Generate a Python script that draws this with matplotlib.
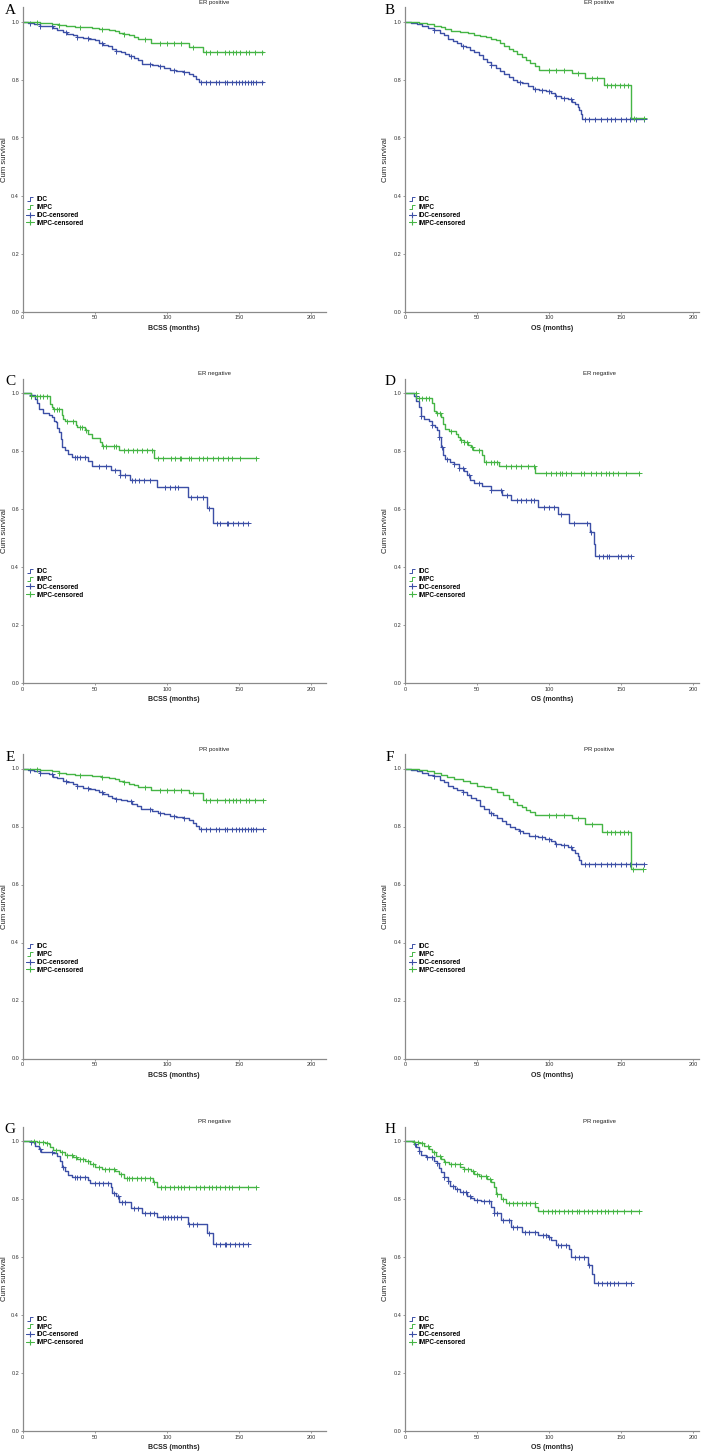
"""Kaplan-Meier curves, IDC vs IMPC, split by ER / PR status (8 panels)."""

import matplotlib
import matplotlib.pyplot as plt
import numpy as np
from matplotlib.lines import Line2D
from matplotlib.path import Path

matplotlib.use("Agg")

plt.rcParams["font.family"] = ["Liberation Sans", "DejaVu Sans"]

BLUE = "#3c4fa6"
GREEN = "#45b545"
AXIS_GREY = "#8a8a8a"

# ---------------------------------------------------------------- data
# step times (months) / cumulative survival / censor times
A_IDC_T = [0, 4, 8, 12, 17, 21, 24, 28, 31, 35, 38, 42, 46, 50, 53, 56, 59, 62, 65, 68,
           71, 74, 77, 80, 83, 90, 94, 98, 102, 106, 111, 115, 118, 120, 122, 167]
A_IDC_S = [1.0, 0.995, 0.99, 0.986, 0.983, 0.977, 0.97, 0.965, 0.958, 0.952, 0.947, 0.943,
           0.938, 0.935, 0.927, 0.92, 0.914, 0.906, 0.9, 0.895, 0.888, 0.88, 0.874, 0.866,
           0.853, 0.851, 0.845, 0.838, 0.833, 0.829, 0.825, 0.82, 0.812, 0.803, 0.793, 0.793]
A_IDC_C = [5, 12, 20, 30, 38, 45, 55, 65, 75, 88, 95, 105, 112, 124, 127, 130, 134, 136,
           140, 142, 145, 148, 150, 152, 154, 156, 158, 160, 162, 166]
A_IMPC_T = [0, 6, 12, 20, 25, 30, 36, 42, 48, 53, 60, 64, 67, 70, 74, 77, 80, 89, 115, 125, 167]
A_IMPC_S = [1.0, 0.997, 0.995, 0.992, 0.988, 0.985, 0.982, 0.98, 0.977, 0.974, 0.972, 0.968,
            0.962, 0.958, 0.953, 0.946, 0.939, 0.926, 0.912, 0.894, 0.894]
A_IMPC_C = [10, 25, 40, 55, 70, 85, 95, 100, 105, 110, 118, 127, 130, 135, 140, 143, 146,
            148, 151, 155, 157, 161, 166]

B_IDC_T = [0, 4, 8, 12, 16, 20, 24, 27, 30, 33, 36, 39, 42, 45, 48, 51, 54, 57, 60, 63, 66,
           69, 72, 75, 78, 81, 85, 89, 93, 98, 101, 104, 108, 113, 116, 118, 120, 121, 122,
           123, 166]
B_IDC_S = [1.0, 0.995, 0.99, 0.983, 0.978, 0.972, 0.962, 0.952, 0.94, 0.932, 0.925, 0.917,
           0.911, 0.903, 0.895, 0.885, 0.872, 0.86, 0.851, 0.84, 0.828, 0.818, 0.808, 0.8,
           0.793, 0.787, 0.776, 0.768, 0.763, 0.76, 0.752, 0.744, 0.737, 0.732, 0.724, 0.715,
           0.705, 0.695, 0.68, 0.665, 0.665]
B_IDC_C = [20, 40, 60, 80, 90, 95, 100, 105, 110, 115, 125, 128, 132, 136, 140, 143, 146,
           150, 153, 156, 160, 166]
B_IMPC_T = [0, 5, 10, 15, 20, 25, 28, 32, 38, 44, 48, 52, 56, 60, 63, 66, 69, 72, 75, 78,
            81, 84, 87, 90, 93, 116, 125, 138, 157, 166]
B_IMPC_S = [1.0, 0.997, 0.994, 0.99, 0.986, 0.98, 0.974, 0.968, 0.965, 0.962, 0.955, 0.95,
            0.946, 0.94, 0.935, 0.925, 0.915, 0.905, 0.897, 0.888, 0.877, 0.867, 0.858, 0.845,
            0.834, 0.822, 0.806, 0.78, 0.666, 0.666]
B_IMPC_C = [100, 105, 110, 120, 130, 133, 140, 143, 146, 149, 152, 155, 159, 166]

C_IDC_T = [0, 6, 8.5, 10, 11.5, 14, 18, 20, 22, 23, 24, 25.5, 26.5, 27.5, 29.5, 31.5, 34,
           45.5, 48, 61.5, 67.5, 74.5, 93, 114.5, 128, 132, 156.5]
C_IDC_S = [1.0, 0.994, 0.98, 0.966, 0.946, 0.932, 0.925, 0.92, 0.906, 0.9, 0.88, 0.866,
           0.843, 0.814, 0.803, 0.789, 0.78, 0.768, 0.751, 0.734, 0.717, 0.7, 0.677, 0.642,
           0.604, 0.554, 0.554]
C_IDC_C = [6, 36, 38, 40, 43, 53, 58, 64, 67.5, 71, 75.6, 78, 81, 84, 88, 98.7, 102, 105.7,
           108, 117, 120.7, 125, 129.5, 134.6, 137, 141.5, 142.7, 146, 149.6, 153, 156.5]
C_IMPC_T = [0, 6, 19, 20, 21, 27, 28, 29.5, 37, 38, 43, 45.5, 48, 53.5, 55, 67, 91, 162]
C_IMPC_S = [1.0, 0.992, 0.963, 0.952, 0.946, 0.925, 0.912, 0.906, 0.891, 0.883, 0.872, 0.86,
            0.846, 0.831, 0.817, 0.803, 0.778, 0.778]
C_IMPC_C = [6, 9.7, 12, 14, 17, 22, 23.6, 25.4, 30.5, 34.7, 39.8, 41, 44, 56, 58, 63, 65,
            70, 73, 76.8, 79, 82.5, 86, 89.5, 94, 97.6, 103, 105.7, 109, 110, 115, 117, 122,
            125, 127.6, 132, 135.7, 139, 142.7, 145, 150.7, 162]

D_IDC_T = [0, 6, 7.5, 9.5, 11, 13, 16.5, 19, 21, 22.5, 23.5, 25, 26.5, 28, 31.5, 34, 37.5,
           41, 43, 45, 48, 53.5, 59.5, 67.5, 73.5, 92.5, 106, 114, 128.5, 131, 132, 156.5]
D_IDC_S = [1.0, 0.989, 0.975, 0.952, 0.923, 0.912, 0.904, 0.889, 0.883, 0.872, 0.849, 0.814,
           0.786, 0.775, 0.763, 0.755, 0.743, 0.732, 0.717, 0.702, 0.69, 0.679, 0.665, 0.648,
           0.631, 0.608, 0.583, 0.553, 0.521, 0.482, 0.438, 0.438]
D_IDC_C = [7.4, 11, 19, 23.6, 26, 29.4, 34, 37.5, 40.5, 44.4, 51.4, 59.5, 66.4, 70.6, 78,
           80.3, 83.8, 87.3, 89.6, 96.5, 100, 103.5, 108, 117.4, 126.6, 129, 134.7, 137.7,
           140.5, 141.7, 147.5, 149.8, 154.4, 156.5]
D_IMPC_T = [0, 7.5, 18.5, 20, 21.5, 25, 26.5, 28, 30.5, 35.5, 37, 38.5, 41, 44, 45.5, 47,
            53.5, 55, 65.5, 90.5, 162.5]
D_IMPC_S = [1.0, 0.983, 0.966, 0.94, 0.931, 0.917, 0.894, 0.877, 0.869, 0.86, 0.849, 0.839,
            0.831, 0.823, 0.814, 0.805, 0.786, 0.763, 0.748, 0.725, 0.725]
D_IMPC_C = [7.4, 9.7, 12, 14.4, 16.7, 22.5, 24.3, 31.7, 38.7, 41, 43.3, 46.8, 51.4, 56,
            59.5, 61.8, 64, 70, 73.4, 76.9, 80.3, 85, 89.6, 97.7, 101, 104.6, 107.6, 109,
            111.6, 115, 122, 124.3, 129, 132.4, 135.9, 139.4, 141.7, 144, 147.5, 153.2, 162.5]

E_IDC_T = [0, 4, 8, 12, 18, 21, 24, 28, 31, 35, 38, 42, 46, 50, 53, 56, 59, 62, 65, 68,
           72, 76, 79, 82, 90, 94, 98, 102, 106, 111, 115, 118, 120, 122, 167]
E_IDC_S = [1.0, 0.995, 0.99, 0.984, 0.98, 0.972, 0.966, 0.958, 0.952, 0.946, 0.938, 0.934,
           0.931, 0.926, 0.918, 0.911, 0.905, 0.9, 0.896, 0.892, 0.887, 0.879, 0.871, 0.859,
           0.855, 0.848, 0.842, 0.836, 0.834, 0.828, 0.822, 0.813, 0.803, 0.791, 0.791]
E_IDC_C = [5, 12, 20, 30, 38, 45, 55, 65, 75, 88, 95, 105, 112, 124, 127, 130, 134, 136,
           140, 142, 145, 148, 150, 152, 154, 156, 158, 160, 162, 167]
E_IMPC_T = [0, 6, 12, 20, 25, 30, 36, 42, 48, 54, 60, 64, 67, 70, 74, 77, 80, 89, 115, 125, 167]
E_IMPC_S = [1.0, 0.997, 0.995, 0.99, 0.985, 0.982, 0.979, 0.977, 0.974, 0.971, 0.968, 0.964,
            0.958, 0.953, 0.948, 0.943, 0.937, 0.925, 0.914, 0.893, 0.893]
E_IMPC_C = [10, 25, 40, 55, 70, 85, 95, 100, 105, 110, 118, 127, 130, 135, 140, 143, 146,
            148, 151, 155, 157, 161, 167]

F_IDC_T = [0, 4, 8, 12, 16, 20, 24, 27, 30, 33, 36, 40, 43, 46, 49, 52, 55, 58, 61, 64,
           67, 70, 73, 76, 79, 82, 86, 92, 97, 101, 104, 108, 113, 116, 118, 120, 121, 122, 166]
F_IDC_S = [1.0, 0.995, 0.99, 0.983, 0.978, 0.974, 0.962, 0.952, 0.939, 0.932, 0.926, 0.918,
           0.91, 0.9, 0.89, 0.872, 0.86, 0.848, 0.838, 0.828, 0.818, 0.808, 0.8, 0.792, 0.784,
           0.776, 0.768, 0.763, 0.758, 0.75, 0.741, 0.735, 0.728, 0.72, 0.71, 0.698, 0.686,
           0.672, 0.672]
F_IDC_C = [20, 40, 60, 80, 90, 95, 100, 105, 110, 115, 125, 128, 132, 136, 140, 143, 146,
           150, 153, 156, 160, 166]
F_IMPC_T = [0, 5, 10, 15, 20, 25, 29, 34, 40, 45, 50, 55, 60, 64, 68, 72, 75, 78, 81, 84,
            87, 90, 116, 125, 137, 157, 165]
F_IMPC_S = [1.0, 0.997, 0.994, 0.99, 0.985, 0.977, 0.97, 0.964, 0.957, 0.949, 0.941, 0.935,
            0.928, 0.918, 0.907, 0.895, 0.885, 0.875, 0.866, 0.858, 0.849, 0.841, 0.828, 0.81,
            0.782, 0.652, 0.652]
F_IMPC_C = [100, 105, 110, 120, 130, 140, 143, 146, 149, 152, 155, 158, 165]

G_IDC_T = [0, 6, 8.5, 11, 13, 21, 23.5, 26, 27.5, 29.5, 31.5, 34, 45, 46.5, 61, 62, 65, 67,
           75, 82.5, 93, 114.5, 128, 132, 156.5]
G_IDC_S = [1.0, 0.995, 0.984, 0.972, 0.963, 0.958, 0.949, 0.932, 0.909, 0.898, 0.883, 0.877,
           0.866, 0.854, 0.84, 0.82, 0.812, 0.789, 0.768, 0.752, 0.737, 0.714, 0.684, 0.644,
           0.644]
G_IDC_C = [6, 12, 20, 28, 36, 38, 40, 43, 50, 53, 56, 59, 63, 66, 69, 71, 77, 80, 85, 88,
           91, 97, 99, 101, 103, 105, 107, 110, 115, 118, 121, 129, 134, 137, 140, 141, 144,
           147, 150, 153, 156]
G_IMPC_T = [0, 10, 13, 15.5, 18, 19, 21, 26, 29.5, 35, 37.5, 43, 46.5, 50, 55, 64, 66.5,
            70, 90.5, 93, 162]
G_IMPC_S = [1.0, 0.998, 0.995, 0.993, 0.99, 0.978, 0.969, 0.963, 0.953, 0.946, 0.938, 0.93,
            0.921, 0.909, 0.904, 0.896, 0.887, 0.873, 0.858, 0.84, 0.84]
G_IMPC_C = [8, 11, 14, 17, 23, 27, 31, 34, 37, 40, 42, 45, 49, 53, 57, 60, 63, 68, 72, 74,
            76, 79, 82, 85, 88, 91, 96, 99, 102, 105, 108, 110, 112, 115, 120, 123, 126, 129,
            131, 134, 137, 140, 143, 145, 150, 156, 162]

H_IDC_T = [0, 6, 7.5, 9.5, 11, 14.5, 20, 22, 23.5, 25, 27, 29.5, 31.5, 35, 38.5, 43, 45.5,
           48, 52.5, 60, 61.5, 66.5, 73.5, 81.5, 92.5, 99, 101, 104.5, 114, 115.5, 127, 130,
           131, 156.5]
H_IDC_S = [1.0, 0.99, 0.978, 0.964, 0.953, 0.944, 0.932, 0.923, 0.907, 0.892, 0.875, 0.861,
           0.846, 0.835, 0.825, 0.812, 0.804, 0.798, 0.792, 0.772, 0.751, 0.726, 0.703, 0.685,
           0.677, 0.668, 0.659, 0.643, 0.628, 0.599, 0.573, 0.542, 0.511, 0.511]
H_IDC_C = [7, 10, 15, 19, 22, 27, 30, 33, 36, 40, 42, 45, 50, 55, 58, 62, 64, 68, 72, 75,
           78, 83, 86, 90, 96, 98, 100, 106, 108, 112, 118, 121, 124, 128, 134, 137, 140, 142,
           145, 148, 153, 156.5]
H_IMPC_T = [0, 6, 9.5, 13, 16.5, 19, 21.5, 25, 27, 30.5, 38.5, 41, 45.5, 48, 51.5, 57, 59.5,
            61.5, 63, 66.5, 70, 90.5, 92, 162.5]
H_IMPC_S = [1.0, 0.997, 0.992, 0.984, 0.972, 0.961, 0.95, 0.938, 0.927, 0.921, 0.912, 0.904,
            0.896, 0.886, 0.878, 0.869, 0.858, 0.84, 0.817, 0.8, 0.785, 0.774, 0.758, 0.758]
H_IMPC_C = [6, 9, 12, 16, 20, 24, 28, 32, 35, 38, 41, 44, 47, 50, 53, 56, 59, 64, 68, 72,
            75, 78, 81, 84, 87, 90, 96, 99, 102, 104, 107, 110, 113, 116, 119, 121, 124, 127,
            130, 133, 136, 139, 141, 144, 147, 152, 157, 162.5]

LETTERS = ["A", "B", "C", "D", "E", "F", "G", "H"]
TITLES = ["ER positive", "ER positive", "ER negative", "ER negative",
          "PR positive", "PR positive", "PR negative", "PR negative"]
XLABELS = ["BCSS (months)", "OS (months)"]
GROUPS = ["IDC", "IMPC"]

PANELS = [
    (A_IDC_T, A_IDC_S, A_IDC_C, A_IMPC_T, A_IMPC_S, A_IMPC_C),
    (B_IDC_T, B_IDC_S, B_IDC_C, B_IMPC_T, B_IMPC_S, B_IMPC_C),
    (C_IDC_T, C_IDC_S, C_IDC_C, C_IMPC_T, C_IMPC_S, C_IMPC_C),
    (D_IDC_T, D_IDC_S, D_IDC_C, D_IMPC_T, D_IMPC_S, D_IMPC_C),
    (E_IDC_T, E_IDC_S, E_IDC_C, E_IMPC_T, E_IMPC_S, E_IMPC_C),
    (F_IDC_T, F_IDC_S, F_IDC_C, F_IMPC_T, F_IMPC_S, F_IMPC_C),
    (G_IDC_T, G_IDC_S, G_IDC_C, G_IMPC_T, G_IMPC_S, G_IMPC_C),
    (H_IDC_T, H_IDC_S, H_IDC_C, H_IMPC_T, H_IMPC_S, H_IMPC_C),
]

# little step icon SPSS uses in the legend
STEP_ICON = Path([(-1, -0.5), (-0.1, -0.5), (-0.1, 0.5), (1, 0.5)],
                 [Path.MOVETO, Path.LINETO, Path.LINETO, Path.LINETO])


def _km(ax, t, s, cens, color):
    t = np.asarray(t, float)
    s = np.asarray(s, float)
    ax.step(t, s, where="post", color=color, lw=1.0)
    c = np.asarray(cens, float)
    idx = np.searchsorted(t, c, side="right") - 1
    ax.plot(c, s[idx], ls="none", marker="+", ms=3.6, mew=0.7, color=color)


def draw_panel(ax, i, data, xmax):
    it, is_, ic, mt, ms_, mc = data
    _km(ax, it, is_, ic, BLUE)
    _km(ax, mt, ms_, mc, GREEN)

    ax.set_xlim(0, xmax)
    ax.set_ylim(0, 1.05)
    ax.set_xticks([0, 50, 100, 150, 200])
    ax.set_yticks(np.arange(0, 1.01, 0.2))
    ax.yaxis.set_major_formatter(matplotlib.ticker.FormatStrFormatter("%.1f"))
    for side in ("top", "right"):
        ax.spines[side].set_visible(False)
    for side in ("left", "bottom"):
        ax.spines[side].set_color(AXIS_GREY)
        ax.spines[side].set_linewidth(0.9)
    ax.tick_params(length=1.6, width=0.6, pad=1.0, labelsize=4, color=AXIS_GREY,
                   labelcolor="#333333")

    right = i % 2 == 1
    ax.set_xlabel(XLABELS[i % 2], fontsize=5, fontweight="bold", color="#222222")
    ax.xaxis.set_label_coords(0.5, -0.043)
    ax.set_ylabel("Cum survival", fontsize=5.6, color="#222222")
    ax.yaxis.set_label_coords(-0.055 if right else -0.047, 0.5)

    ax.text(0.66 if right else 0.632, 1.016, TITLES[i], transform=ax.transAxes,
            ha="center", va="center", fontsize=4.3, color="#222222")
    ax.text(-0.051 if right else -0.042, 0.99, LETTERS[i], transform=ax.transAxes,
            ha="center", va="center", fontsize=11,
            family=["Liberation Serif", "DejaVu Serif"])

    handles = [
        Line2D([], [], color=BLUE, marker=STEP_ICON, ls="none", ms=4.5, mew=0.7,
               mfc="none"),
        Line2D([], [], color=GREEN, marker=STEP_ICON, ls="none", ms=4.5, mew=0.7,
               mfc="none"),
        Line2D([], [], color=BLUE, marker="+", ls="-", lw=0.7, ms=5, mew=0.8),
        Line2D([], [], color=GREEN, marker="+", ls="-", lw=0.7, ms=5, mew=0.8),
    ]
    labels = GROUPS + [g + "-censored" for g in GROUPS]
    ax.legend(handles, labels, loc="upper left", bbox_to_anchor=(0.012, 0.378),
              frameon=False, borderpad=0, borderaxespad=0, handlelength=1.2,
              handletextpad=0.3, labelspacing=0.12, numpoints=1,
              prop={"size": 4.7, "weight": "bold"})


W, H = 709, 1451
fig = plt.figure(figsize=(W / 100, H / 100), dpi=100)

col_left = [22.7, 405.0]
col_width = [302.8, 294.0]
col_xmax = [210, 204]
row_bottom = [311.5, 683.3, 1058.5, 1431.0]
ax_h = 304.5

for i, data in enumerate(PANELS):
    r, c = divmod(i, 2)
    ax = fig.add_axes([col_left[c] / W, 1 - row_bottom[r] / H,
                       col_width[c] / W, ax_h / H])
    draw_panel(ax, i, data, col_xmax[c])

fig.savefig("out.png", dpi=100)
plt.close(fig)
